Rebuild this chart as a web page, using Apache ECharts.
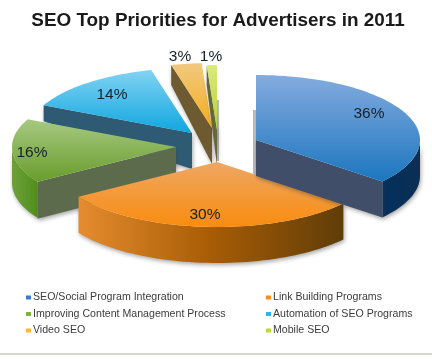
<!DOCTYPE html>
<html><head><meta charset="utf-8">
<style>html,body{margin:0;padding:0;background:#fff}#c{width:432px;height:359px;filter:blur(0.45px)}</style>
<script src="https://cdn.jsdelivr.net/npm/echarts@6/dist/echarts.min.js"></script>
</head><body><div id="c"></div>
<script>
const categories = ['SEO/Social Program Integration','Link Building Programs','Improving Content Management Process','Automation of SEO Programs','Video SEO','Mobile SEO'];
const values = [36,30,16,14,3,1];
const leftLegend = ['SEO/Social Program Integration','Improving Content Management Process','Video SEO'];
const rightLegend = ['Link Building Programs','Automation of SEO Programs','Mobile SEO'];
const chartTitle = 'SEO Top Priorities for Advertisers in 2011';

// drawing layout, per category
const FONT = 'Liberation Sans';
const RX = 164, RY = 65, DEPTH = 36;
const apex = [[256,140],[217,162],[176,147],[192,133],[212,128],[217,130]];
const outerDepth = [36,36,37,16,20,20];
const labelAt = [[369,114],[205,215],[32,153],[112,95],[180,57],[211,57]];
const drawOrder = [4,5,3,2,1,0].reduce((m,c,i)=>{m[c]=i;return m;},{});
const legendColor = ['#3b7cc4','#f58d24','#7fb04a','#2fb5ea','#f9b93d','#bfd83a'];
const topFill = [['#84abde','#1b76bf'],['#eea763','#f98c0f'],['#a6c981','#699c2c'],['#82d3f3','#0fa6df'],['#f0c97f','#f6ae1c'],['#dcea80','#b6cf2e']];
const sideFill = ['#414e69','#a85c05','#5b6b4c','#2e5b73','#6d5a30','#666838'];
const curveFill = [['#02305c','#0b2f55'],['#e58c2e','#a85c05','#5f3d08'],['#6ea03a','#4f8f1c'],null,null,null];
const castShadow = [[[253,110],[256,110],[256,175],[253,175]],null,null,null,null,[[217,100],[219,100],[219,161],[217,161]]];

const total = values.reduce((a,b)=>a+b,0);
const startAngle = values.map((_,i)=>values.slice(0,i).reduce((a,b)=>a+b,0)/total*360);
const pt = (c,deg)=>{const r=deg*Math.PI/180;return [apex[c][0]+RX*Math.sin(r),apex[c][1]-RY*Math.cos(r)];};
function arc(c,a0,a1){const out=[];const n=Math.max(2,Math.ceil((a1-a0)/2));for(let k=0;k<=n;k++)out.push(pt(c,a0+(a1-a0)*k/n));return out;}
const grad=(dir,cols)=>new echarts.graphic.LinearGradient(0,0,dir?1:0,dir?0:1,cols.map((color,i)=>({offset:i/(cols.length-1),color})));

function renderSlice(c){
  return function(params,api){
    const a0=startAngle[c], a1=a0+api.value(0)/total*360;
    const kids=[];
    const sh={shadowBlur:4,shadowColor:'rgba(60,60,60,0.45)',shadowOffsetX:1,shadowOffsetY:2};
    if(castShadow[c]) kids.push({type:'polygon',shape:{points:castShadow[c]},style:{fill:'#b9b9b9'}});
    // curved front wall
    const f0=Math.max(a0,90), f1=Math.min(a1,270);
    if(f1>f0 && curveFill[c]){
      const top=arc(c,f0,f1);
      const bot=top.slice().reverse().map(p=>[p[0],p[1]+DEPTH]);
      kids.push({type:'polygon',shape:{points:top.concat(bot)},style:Object.assign({fill:grad(true,curveFill[c])},sh)});
    }
    // radial walls facing the viewer
    const A=apex[c];
    const wall=(deg)=>{const p=pt(c,deg);
      kids.push({type:'polygon',shape:{points:[A,p,[p[0],p[1]+outerDepth[c]],[A[0],A[1]+DEPTH]]},style:Object.assign({fill:sideFill[c]},sh)});};
    if(Math.sin(a1*Math.PI/180)>0.01) wall(a1);
    if(Math.sin(a0*Math.PI/180)<-0.01) wall(a0);
    // top face
    const poly=[A].concat(arc(c,a0,a1));
    kids.push({type:'polygon',shape:{points:poly},style:{fill:grad(false,topFill[c])}});
    // value label
    kids.push({type:'text',style:{text:api.value(0)+'%',x:labelAt[c][0],y:labelAt[c][1],align:'center',verticalAlign:'middle',fill:'#16202c',fontSize:15.5,fontFamily:FONT},z2:50});
    return {type:'group',children:kids};
  };
}

const legendBase={orient:'vertical',icon:'rect',itemWidth:5,itemHeight:4,itemGap:5.5,selectedMode:false,padding:0,
  textStyle:{fontSize:10.6,color:'#3c3c3c',fontFamily:FONT,padding:[0,0,0,-3]}};

const chart=echarts.init(document.getElementById('c'),null,{renderer:'canvas'});
chart.setOption({
  animation:false,
  backgroundColor:'#ffffff',
  title:{text:chartTitle,left:218,textAlign:'center',top:11,padding:0,textStyle:{fontSize:18.9,fontWeight:'bold',color:'#1a1a1a',fontFamily:FONT}},
  legend:[
    Object.assign({},legendBase,{data:leftLegend,left:26,top:292}),
    Object.assign({},legendBase,{data:rightLegend,left:266,top:292})
  ],
  graphic:[{type:'rect',shape:{x:0,y:353,width:432,height:2},style:{fill:'#d9d6d0'},silent:true}],
  series:categories.map((name,c)=>({
    type:'custom',name,coordinateSystem:'none',z:2+drawOrder[c],
    itemStyle:{color:legendColor[c]},
    data:[[values[c]]],
    renderItem:renderSlice(c)
  }))
});
</script></body></html>
